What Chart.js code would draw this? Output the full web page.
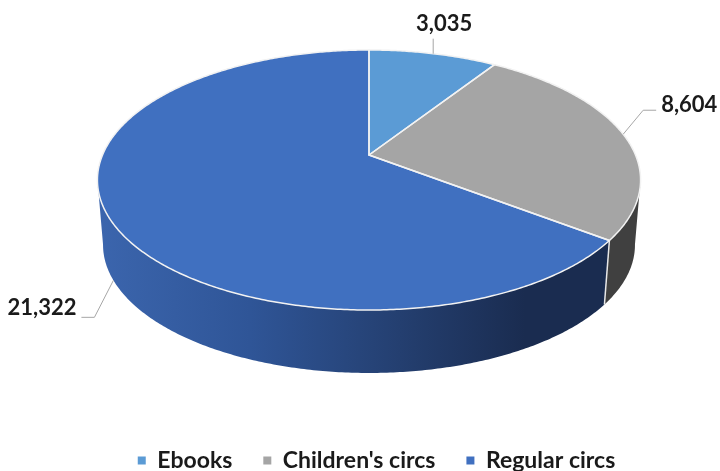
<!DOCTYPE html>
<html>
<head>
<meta charset="utf-8">
<style>
    html, body { margin: 0; padding: 0; background: #ffffff; }
    canvas { display: block; }
</style>
<script src="https://cdn.jsdelivr.net/npm/chart.js@4"></script>
</head>
<body>
<canvas id="pie-chart" width="720" height="471"></canvas>
<script>
/* DATA */
const categories = ["Ebooks", "Children's circs", "Regular circs"];
const circValues = [3035, 8604, 21322];
const sliceColors = ["#5B9BD5", "#A5A5A5", "#4070C0"];

/* label offsets from the leader start: elbow dx, dy, end dx, dy, text x, text y */
const leaderOffsets = [
    [0, -15, 0, -15, 11, -30],
    [20, -24, 33, -24, 38, -29],
    [-19, 37, -32, 37, -37, 28]
];

const labelFont = "bold 22px Lato";

// Excel style tilted pie: the circle goes through a perspective mapping,
// which keeps the rays straight and the apex above the ellipse centre
const topFace = { cx: 369, cy: 155, a: 266.5, b: 125.2, c: -0.1923 };
const baseFace = { cx: 369, cy: 220.3, a: 261, b: 123.3, c: -0.1923 };

function project(face, angle) {
    const u = Math.cos(angle);
    const v = Math.sin(angle);
    const d = 1 + face.c * v;
    return { x: face.cx + face.a * u / d, y: face.cy + face.b * v / d };
}

function traceRim(ctx, face, from, to) {
    const steps = Math.max(2, Math.ceil(Math.abs(to - from) / 0.01));
    for (let i = 0; i <= steps; i++) {
        const p = project(face, from + (to - from) * i / steps);
        ctx.lineTo(p.x, p.y);
    }
}

function sideFill(ctx, index) {
    if (index === 1) {
        return "#404040";
    }
    const g = ctx.createLinearGradient(100, 0, 600, 0);
    g.addColorStop(0, "#3B65AD");
    g.addColorStop(0.3, "#2F5597");
    g.addColorStop(0.6, "#243F70");
    g.addColorStop(0.85, "#1A2C50");
    g.addColorStop(1, "#1A2C50");
    return g;
}

const tiltedPie = {
    id: "tiltedPie",
    // the library's flat arcs are replaced by the tilted ones
    beforeDatasetDraw() {
        return false;
    },
    beforeDatasetsDraw(chart) {
        const ctx = chart.ctx;
        const arcs = chart.getDatasetMeta(0).data;
        const sideFrom = Math.asin(0.19);
        const sideTo = Math.PI - sideFrom;

        ctx.save();
        ctx.lineJoin = "round";

        // walls of the front half
        arcs.forEach((arc, i) => {
            const from = Math.max(arc.startAngle, sideFrom);
            const to = Math.min(arc.endAngle, sideTo);
            if (to <= from) {
                return;
            }
            ctx.beginPath();
            traceRim(ctx, topFace, from, to);
            traceRim(ctx, baseFace, to, from);
            ctx.closePath();
            ctx.fillStyle = sideFill(ctx, i);
            ctx.fill();
        });

        // white edge between the two walls
        const joint = arcs[1].endAngle;
        const jointTop = project(topFace, joint);
        const jointBase = project(baseFace, joint);
        ctx.strokeStyle = "#E8E8E8";
        ctx.lineWidth = 1.5;
        ctx.beginPath();
        ctx.moveTo(jointTop.x, jointTop.y);
        ctx.lineTo(jointBase.x, jointBase.y);
        ctx.stroke();

        // top face
        arcs.forEach((arc, i) => {
            ctx.beginPath();
            ctx.moveTo(topFace.cx, topFace.cy);
            traceRim(ctx, topFace, arc.startAngle, arc.endAngle);
            ctx.closePath();
            ctx.fillStyle = sliceColors[i];
            ctx.fill();
        });
        arcs.forEach((arc) => {
            ctx.beginPath();
            ctx.moveTo(topFace.cx, topFace.cy);
            traceRim(ctx, topFace, arc.startAngle, arc.endAngle);
            ctx.closePath();
            ctx.strokeStyle = "#F2F2F2";
            ctx.lineWidth = 1.5;
            ctx.stroke();
        });

        // leader lines and value labels
        ctx.font = labelFont;
        ctx.textBaseline = "middle";
        arcs.forEach((arc, i) => {
            const mid = (arc.startAngle + arc.endAngle) / 2;
            const front = Math.sin(mid) > 0.2;
            const start = project(front ? baseFace : topFace, mid);
            const o = leaderOffsets[i];
            ctx.strokeStyle = "#A6A6A6";
            ctx.lineWidth = 1;
            ctx.beginPath();
            ctx.moveTo(start.x, start.y);
            ctx.lineTo(start.x + o[0], start.y + o[1]);
            ctx.lineTo(start.x + o[2], start.y + o[3]);
            ctx.stroke();
            ctx.fillStyle = "#1A1A1A";
            ctx.textAlign = i === 2 ? "right" : i === 1 ? "left" : "center";
            ctx.fillText(circValues[i].toLocaleString("en-US"), start.x + o[4], start.y + o[5]);
        });
        ctx.restore();
    }
};

new Chart(document.getElementById("pie-chart").getContext("2d"), {
    type: "pie",
    data: {
        labels: categories,
        datasets: [{
            label: "Circs",
            data: circValues,
            backgroundColor: sliceColors,
            borderWidth: 0
        }]
    },
    options: {
        responsive: false,
        animation: false,
        devicePixelRatio: 1,
        layout: { padding: { left: 33, bottom: -11 } },
        plugins: {
            tooltip: { enabled: false },
            legend: {
                position: "bottom",
                fullSize: false,
                labels: {
                    boxWidth: 8,
                    boxHeight: 8,
                    padding: 31,
                    color: "#1A1A1A",
                    font: { family: "Lato", size: 23, weight: "bold" }
                }
            }
        }
    },
    plugins: [tiltedPie]
});
</script>
</body>
</html>
